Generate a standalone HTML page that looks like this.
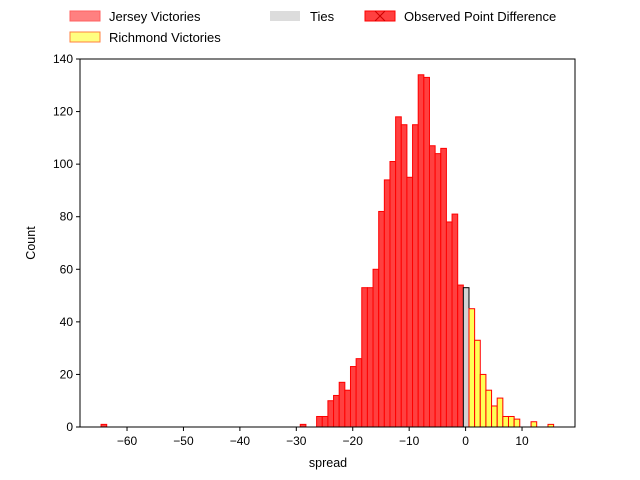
<!DOCTYPE html>
<html><head><meta charset="utf-8"><style>body{margin:0;background:#fff}svg{display:block;font-family:"Liberation Sans",sans-serif}</style></head>
<body>
<svg id="c" width="640" height="480"></svg>
<script>
const redStart=-26.4;
const redCounts=[4,4,10,12,17,14,23,26,53,53,60,82,94,101,118,115,95,115,134,133,107,104,106,78,81,54];
const extraRed=[[-64.6,1],[-29.3,1]];
const tieStart=-0.4;
const tieCount=53;
const yelStart=0.6;
const yelCounts=[45,33,20,14,8,11,4,4,3,0,0,2,0,0,1];
const xTicks=[-60,-50,-40,-30,-20,-10,0,10];
const yTicks=[0,20,40,60,80,100,120,140];
const binW=1;
const NS="http://www.w3.org/2000/svg";
const svg=document.getElementById('c');
const L=80,R=575,T=59,B=427;
const X=v=>465.6+v*5.643;
const Y=v=>B-v*(B-T)/140;
function el(t,a,p){const e=document.createElementNS(NS,t);for(const k in a)e.setAttribute(k,a[k]);(p||svg).appendChild(e);return e;}
const bars=el('g',{});


function bar(x0,c,fill,stroke,name){if(c<=0)return;const r=el('rect',{x:X(x0),y:Y(c),width:X(x0+binW)-X(x0),height:Y(0)-Y(c),fill:fill,stroke:stroke,'stroke-width':1},bars);

}
extraRed.forEach(d=>bar(d[0],d[1],'#ff4040','#ff0000','jersey-bar'));
redCounts.forEach((c,i)=>bar(redStart+i*binW,c,'#ff4040','#ff0000','jersey-bar'));
bar(tieStart,tieCount,'#d3d3d3','#000','tie-bar');
yelCounts.forEach((c,i)=>bar(yelStart+i*binW,c,'#ffff55','#ff0000','richmond-bar'));
const fr=el('rect',{x:L,y:T,width:R-L,height:B-T,fill:'none',stroke:'#000','stroke-width':1});


xTicks.forEach(v=>{const x=X(v);el('line',{x1:x,x2:x,y1:B,y2:B+4,stroke:'#000'});const t=el('text',{x:x,y:B+18,'text-anchor':'middle','font-size':12});t.textContent=(v<0?'\u2212'+(-v):v);

});
yTicks.forEach(v=>{const y=Y(v);el('line',{x1:L-4,x2:L,y1:y,y2:y,stroke:'#000'});const t=el('text',{x:L-7,y:y+4,'text-anchor':'end','font-size':12});t.textContent=v;

});
</script>
<svg width="0" height="0"></svg>
<div style="position:absolute;left:0;top:0;width:640px;height:480px;pointer-events:none">
<svg width="640" height="480" style="font-family:'Liberation Sans',sans-serif;font-size:13px">
<text x="328" y="467" text-anchor="middle" font-size="12.5">spread</text>
<text x="35" y="243" text-anchor="middle" font-size="12.5" transform="rotate(-90 35 243)">Count</text>
<g font-size="13">
<g><rect x="70" y="11" width="30" height="10" fill="#ff8080" stroke="#ff6060"/><text x="109" y="21">Jersey Victories</text></g>
<g><rect x="70" y="32" width="30" height="10" fill="#ffff80" stroke="#ff8040"/><text x="109" y="42">Richmond Victories</text></g>
<g><rect x="270" y="11" width="30" height="10" fill="#dcdcdc"/><text x="310" y="21">Ties</text></g>
<g><rect x="365" y="11" width="30" height="10" fill="#ff4040" stroke="#ff0000"/><path d="M375 11l10 10M385 11l-10 10" stroke="#cc0000"/><text x="404" y="21">Observed Point Difference</text></g>
</g>
</svg></div>
</body></html>
